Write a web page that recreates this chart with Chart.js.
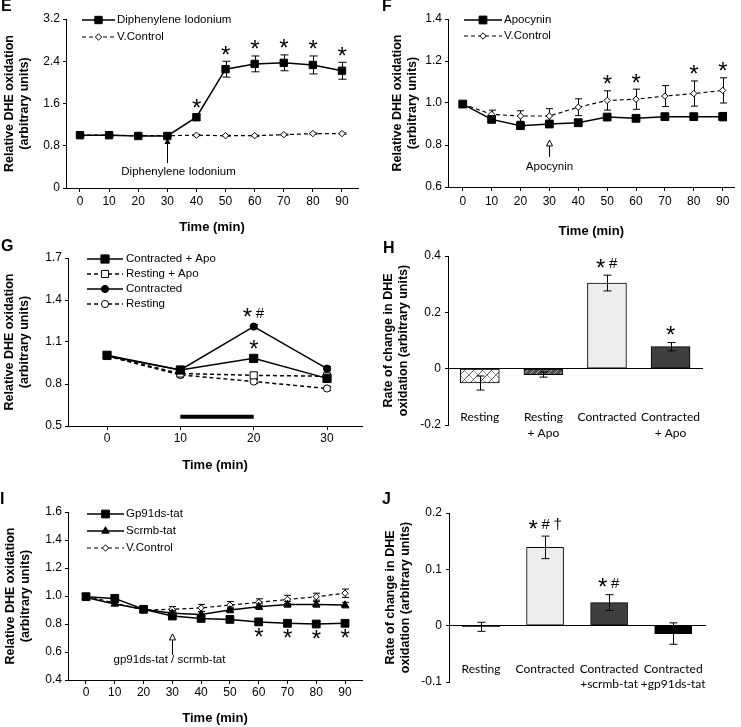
<!DOCTYPE html>
<html>
<head>
<meta charset="utf-8">
<script src="https://cdn.jsdelivr.net/npm/chart.js@4.4.1/dist/chart.umd.min.js"></script>
<style>
  body { margin: 0; background: #fff; }
  #fig { position: relative; width: 741px; height: 727px; overflow: hidden; background: #fff; }
  #fig canvas { position: absolute; }
  .tag { position: absolute; font: bold 16px 'Liberation Sans', Arial, sans-serif; line-height: 16px; color: #000; }
</style>
</head>
<body>
<div id="fig">
  <canvas id="chartE" width="370" height="240" style="left:0;top:0"></canvas>
  <canvas id="chartF" width="371" height="240" style="left:370px;top:0"></canvas>
  <canvas id="chartG" width="370" height="240" style="left:0;top:240px"></canvas>
  <canvas id="chartH" width="371" height="240" style="left:370px;top:240px"></canvas>
  <canvas id="chartI" width="370" height="247" style="left:0;top:480px"></canvas>
  <canvas id="chartJ" width="371" height="247" style="left:370px;top:480px"></canvas>
  <div class="tag" style="left:1px;top:-2px">E</div>
  <div class="tag" style="left:382px;top:-2px">F</div>
  <div class="tag" style="left:1px;top:238px">G</div>
  <div class="tag" style="left:383px;top:240px">H</div>
  <div class="tag" style="left:0;top:491px">I</div>
  <div class="tag" style="left:382px;top:491px">J</div>
</div>
<script>
// ---- data ----
const timeLong = [0, 10, 20, 30, 40, 50, 60, 70, 80, 90];
const timeShort = [0, 10, 20, 30];

// E: diphenylene iodonium
const eYTicks = [0, 0.8, 1.6, 2.4, 3.2];
const dpiValues = [1.0, 1.0, 0.985, 0.985, 1.34, 2.25, 2.35, 2.37, 2.33, 2.22];
const dpiErrors = [0.02, 0.02, 0.02, 0.02, 0.06, 0.15, 0.15, 0.15, 0.17, 0.16];
const dpiStars = ['', '', '', '', '*', '*', '*', '*', '*', '*'];
const dpiControl = [1.0, 1.0, 0.99, 0.99, 1.0, 0.99, 0.99, 1.01, 1.03, 1.03];
const dpiControlErr = [0.01, 0.01, 0.01, 0.01, 0.01, 0.01, 0.01, 0.01, 0.01, 0.01];

// F: apocynin
const fYTicks = [0.6, 0.8, 1.0, 1.2, 1.4];
const apoValues = [0.995, 0.922, 0.892, 0.9, 0.906, 0.933, 0.927, 0.935, 0.935, 0.935];
const apoErrors = [0.01, 0.012, 0.01, 0.01, 0.01, 0.01, 0.01, 0.01, 0.012, 0.02];
const apoControl = [0.995, 0.946, 0.938, 0.938, 0.98, 1.012, 1.018, 1.033, 1.045, 1.06];
const apoControlErr = [0.01, 0.02, 0.025, 0.035, 0.04, 0.046, 0.048, 0.05, 0.06, 0.06];
const apoStars = ['', '', '', '', '', '*', '*', '', '*', '*'];

// G: contraction +/- apocynin
const gYTicks = [0.5, 0.8, 1.1, 1.4, 1.7];
const contApo = [1.005, 0.9, 0.983, 0.84];
const contApoErr = [0.01, 0.01, 0.012, 0.015];
const contApoStars = ['', '', '*', ''];
const restApo = [1.0, 0.875, 0.862, 0.855];
const restApoErr = [0.01, 0.02, 0.02, 0.015];
const contracted = [1.0, 0.9, 1.21, 0.91];
const contractedErr = [0.01, 0.01, 0.015, 0.015];
const contractedStars = ['', '', '* #', ''];
const resting = [1.0, 0.865, 0.818, 0.768];
const restingErr = [0.01, 0.02, 0.015, 0.015];
const contractionPeriod = [10, 20];
const contractionBarLevel = 0.566;

// H: rate of change, apocynin
const hYTicks = [-0.2, 0, 0.2, 0.4];
const hLabels = ['Resting', ['Resting', '+ Apo'], 'Contracted', ['Contracted', '+ Apo']];
const hValues = [-0.051, -0.021, 0.304, 0.078];
const hErrors = [0.025, 0.009, 0.028, 0.015];
const hMarks = ['', '', '* #', '*'];

// I: gp91ds-tat
const iYTicks = [0.4, 0.6, 0.8, 1.0, 1.2, 1.4, 1.6];
const gp91Values = [0.995, 0.983, 0.905, 0.857, 0.84, 0.833, 0.815, 0.805, 0.8, 0.805];
const gp91Errors = [0.01, 0.01, 0.01, 0.01, 0.01, 0.01, 0.01, 0.01, 0.01, 0.01];
const gp91Stars = ['', '', '', '', '', '', '*', '*', '*', '*'];
const scrmbValues = [0.99, 0.943, 0.905, 0.876, 0.868, 0.9, 0.924, 0.94, 0.94, 0.935];
const scrmbErrors = [0.01, 0.01, 0.01, 0.02, 0.02, 0.02, 0.02, 0.02, 0.02, 0.02];
const iControl = [1.0, 0.95, 0.9, 0.905, 0.915, 0.935, 0.955, 0.975, 0.995, 1.02];
const iControlErr = [0.01, 0.01, 0.01, 0.02, 0.025, 0.025, 0.025, 0.03, 0.025, 0.03];

// J: rate of change, gp91ds-tat
const jYTicks = [-0.1, 0, 0.1, 0.2];
const jLabels = ['Resting', 'Contracted', ['Contracted', '+scrmb-tat'], ['Contracted', '+gp91ds-tat']];
const jValues = [-0.002, 0.139, 0.041, -0.014];
const jErrors = [0.008, 0.02, 0.014, 0.019];
const jMarks = ['', '* # \u2020', '* #', ''];

// ---- defaults ----
const FONT = "'Liberation Sans', Arial, sans-serif";
Chart.defaults.font.family = FONT;
Chart.defaults.font.size = 12;
Chart.defaults.color = '#000';
Chart.defaults.animation = false;
Chart.defaults.responsive = false;
Chart.defaults.plugins.legend.display = false;
Chart.defaults.plugins.tooltip.enabled = false;

// ---- plugins ----
function drawErrors(chart, opts) {
  const ctx = chart.ctx, ys = chart.scales.y, cap = opts.cap || 3.5;
  chart.data.datasets.forEach((ds, i) => {
    if (!ds.errors) return;
    const meta = chart.getDatasetMeta(i);
    ctx.save();
    ctx.strokeStyle = '#000';
    ctx.lineWidth = 1;
    meta.data.forEach((el, j) => {
      const v = ds.data[j], e = ds.errors[j];
      if (v == null || !e) return;
      const x = Math.round(el.x) + 0.5;
      const top = ys.getPixelForValue(v + e), bot = ys.getPixelForValue(v - e);
      ctx.beginPath();
      ctx.moveTo(x, top); ctx.lineTo(x, bot);
      ctx.moveTo(x - cap, top); ctx.lineTo(x + cap, top);
      ctx.moveTo(x - cap, bot); ctx.lineTo(x + cap, bot);
      ctx.stroke();
    });
    ctx.restore();
  });
}

const errorBars = {
  id: 'errorBars',
  beforeDatasetsDraw(chart, args, opts) { if (opts.under) drawErrors(chart, opts); },
  afterDatasetsDraw(chart, args, opts) { if (!opts.under) drawErrors(chart, opts); }
};

const markSizes = { '*': 24, '#': 15, '\u2020': 15 };

function drawMark(ctx, text, cx, cy) {
  const parts = text.split(' ').map(t => {
    const font = (markSizes[t] || 14) + 'px ' + FONT;
    ctx.font = font;
    const m = ctx.measureText(t);
    return { t, font, w: m.actualBoundingBoxLeft + m.actualBoundingBoxRight, left: m.actualBoundingBoxLeft,
             asc: m.actualBoundingBoxAscent, desc: m.actualBoundingBoxDescent };
  });
  const gap = 4;
  const total = parts.reduce((s, p) => s + p.w, 0) + gap * (parts.length - 1);
  let x = cx - total / 2;
  ctx.textAlign = 'left';
  ctx.textBaseline = 'alphabetic';
  parts.forEach(p => {
    ctx.font = p.font;
    ctx.fillText(p.t, x + p.left, cy + (p.asc - p.desc) / 2);
    x += p.w + gap;
  });
}

const starMarks = {
  id: 'starMarks',
  afterDatasetsDraw(chart, args, opts) {
    const ctx = chart.ctx, ys = chart.scales.y, gap = opts.gap || 11;
    ctx.save();
    ctx.fillStyle = '#000';
    chart.data.datasets.forEach((ds, i) => {
      if (!ds.marks) return;
      const meta = chart.getDatasetMeta(i);
      meta.data.forEach((el, j) => {
        const m = ds.marks[j];
        if (!m) return;
        const v = ds.data[j], e = (ds.errors && ds.errors[j]) || 0;
        const cy = opts.below ? ys.getPixelForValue(v - e) + gap : ys.getPixelForValue(v + e) - gap;
        drawMark(ctx, m, el.x, cy);
      });
    });
    ctx.restore();
  }
};

function marker(ctx, ds, x, y) {
  ctx.fillStyle = ds.pointBackgroundColor;
  ctx.strokeStyle = ds.pointBorderColor;
  ctx.lineWidth = ds.pointBorderWidth || 1;
  if (Chart.helpers && Chart.helpers.drawPoint) {
    Chart.helpers.drawPoint(ctx, { pointStyle: ds.pointStyle, radius: ds.pointRadius, rotation: 0, borderWidth: ctx.lineWidth }, x, y);
  } else {
    ctx.fillRect(x - 3, y - 3, 6, 6);
  }
}

const lineLegend = {
  id: 'lineLegend',
  afterDraw(chart, args, opts) {
    if (opts.x1 == null) return;
    const ctx = chart.ctx;
    let row = 0;
    chart.data.datasets.forEach(ds => {
      if (ds.hideInLegend) return;
      const y = opts.y + row * opts.dy;
      row++;
      ctx.save();
      ctx.strokeStyle = ds.borderColor;
      ctx.lineWidth = ds.borderWidth;
      ctx.setLineDash(ds.borderDash || []);
      ctx.beginPath();
      ctx.moveTo(opts.x1, y); ctx.lineTo(opts.x2, y);
      ctx.stroke();
      ctx.setLineDash([]);
      marker(ctx, ds, (opts.x1 + opts.x2) / 2, y);
      ctx.fillStyle = '#000';
      ctx.font = '11.5px ' + FONT;
      ctx.textAlign = 'left';
      ctx.textBaseline = 'middle';
      ctx.fillText(ds.label, opts.tx, y);
      ctx.restore();
    });
  }
};

const arrowNote = {
  id: 'arrowNote',
  afterDraw(chart, args, opts) {
    if (opts.at == null) return;
    const ctx = chart.ctx, xs = chart.scales.x, ys = chart.scales.y;
    const x = Math.round(xs.getPixelForValue(opts.at)) + 0.5;
    const y1 = ys.getPixelForValue(opts.from), y2 = ys.getPixelForValue(opts.to);
    ctx.save();
    ctx.strokeStyle = '#000';
    ctx.lineWidth = 1;
    ctx.beginPath();
    ctx.moveTo(x, y1); ctx.lineTo(x, y2 + 5);
    ctx.stroke();
    ctx.beginPath();
    ctx.moveTo(x, y2); ctx.lineTo(x - 3, y2 + 6); ctx.lineTo(x + 3, y2 + 6); ctx.closePath();
    if (opts.open) { ctx.fillStyle = '#fff'; ctx.fill(); ctx.stroke(); }
    else { ctx.fillStyle = '#000'; ctx.fill(); }
    ctx.fillStyle = '#000';
    ctx.font = '11.5px ' + FONT;
    ctx.textAlign = 'center';
    ctx.textBaseline = 'middle';
    ctx.fillText(opts.text, x + (opts.dx || 0), ys.getPixelForValue(opts.textAt));
    ctx.restore();
  }
};

// ---- axes ----
function valueAxis(min, max, ticks, width, title, titlePad, tickPad) {
  return {
    min: min, max: max, bounds: 'data',
    afterBuildTicks: s => { s.ticks = ticks.map(v => ({ value: v })); },
    afterFit: s => { s.width = width; },
    grid: { drawOnChartArea: false, tickLength: 3, color: '#000' },
    border: { color: '#000', width: 1 },
    ticks: { padding: tickPad, font: { size: 12 }, callback: v => (Math.abs(v) < 1e-9 ? '0' : v.toFixed(1)) },
    title: { display: true, text: title, color: '#000',
             font: { size: 12.5, weight: 'bold', lineHeight: 1.2 }, padding: { top: titlePad, bottom: 0 } }
  };
}

function timeAxis(min, max, height, tickPad, titlePad) {
  return {
    type: 'linear', min: min, max: max, bounds: 'data',
    afterBuildTicks: s => { s.ticks = s.chart.data.labels.map(v => ({ value: v })); },
    afterFit: s => { s.height = height; },
    grid: { drawOnChartArea: false, tickLength: 4, color: '#000' },
    border: { color: '#000', width: 1 },
    ticks: { padding: tickPad, autoSkip: false, maxRotation: 0, font: { size: 12 } },
    title: { display: true, text: 'Time (min)', color: '#000',
             font: { size: 13, weight: 'bold', lineHeight: 1.2 }, padding: { top: 0, bottom: titlePad } }
  };
}

function categoryAxis(tickPad) {
  return {
    type: 'category', position: { y: 0 }, offset: true,
    grid: { display: true, drawOnChartArea: false, drawTicks: false },
    border: { color: '#000', width: 1 },
    ticks: { padding: tickPad, autoSkip: false, maxRotation: 0,
             font: { family: 'Lato, sans-serif', size: 12, lineHeight: 1.3 } }
  };
}

// ---- series styles ----
const solidSquare = r => ({ borderColor: '#000', borderWidth: 1.5, pointStyle: 'rect', pointRadius: r,
  pointBackgroundColor: '#000', pointBorderColor: '#000', pointBorderWidth: 1, tension: 0 });
const openDiamond = { borderColor: '#000', borderWidth: 1.2, borderDash: [4, 3], pointStyle: 'rectRot', pointRadius: 3.2,
  pointBackgroundColor: '#fff', pointBorderColor: '#000', pointBorderWidth: 1, tension: 0 };

const yTitle = ['Relative DHE oxidation', '(arbitrary units)'];
const rateTitle = ['Rate of change in DHE', 'oxidation (arbitrary units)'];

// ---- E ----
new Chart(document.getElementById('chartE'), {
  type: 'line',
  data: {
    labels: timeLong,
    datasets: [
      Object.assign({ label: 'Diphenylene Iodonium', data: dpiValues, errors: dpiErrors, marks: dpiStars }, solidSquare(5.2)),
      Object.assign({ label: 'V.Control', data: dpiControl, errors: dpiControlErr }, openDiamond)
    ]
  },
  options: {
    devicePixelRatio: 1,
    layout: { padding: { left: 0, top: 19, right: 12, bottom: 0 } },
    scales: { x: timeAxis(-4.8, 95.5, 52, 2.5, 5), y: valueAxis(0, 3.2, eYTicks, 66, yTitle, 2, 3) },
    plugins: {
      errorBars: { under: true, cap: 4 },
      starMarks: { gap: 11 },
      lineLegend: { x1: 82, x2: 115, tx: 117, y: 20, dy: 17 },
      arrowNote: { at: 30, from: 0.47, to: 0.945, text: 'Diphenylene Iodonium', textAt: 0.3, dx: 11, open: false }
    }
  },
  plugins: [errorBars, starMarks, lineLegend, arrowNote]
});

// ---- F ----
new Chart(document.getElementById('chartF'), {
  type: 'line',
  data: {
    labels: timeLong,
    datasets: [
      Object.assign({ label: 'Apocynin', data: apoValues, errors: apoErrors }, solidSquare(5.5)),
      Object.assign({ label: 'V.Control', data: apoControl, errors: apoControlErr, marks: apoStars }, openDiamond)
    ]
  },
  options: {
    devicePixelRatio: 1,
    layout: { padding: { left: 0, top: 19, right: 1, bottom: 0 } },
    scales: { x: timeAxis(-5.1, 94.1, 53, 3.5, 1.2), y: valueAxis(0.6, 1.4, fYTicks, 78, yTitle, 20, 3) },
    plugins: {
      errorBars: { under: true, cap: 3.5 },
      starMarks: { gap: 11 },
      lineLegend: { x1: 94, x2: 132, tx: 134, y: 20, dy: 16 },
      arrowNote: { at: 30, from: 0.743, to: 0.824, text: 'Apocynin', textAt: 0.695, dx: 0, open: true }
    }
  },
  plugins: [errorBars, starMarks, lineLegend, arrowNote]
});

// ---- G ----
new Chart(document.getElementById('chartG'), {
  type: 'line',
  data: {
    labels: timeShort,
    datasets: [
      Object.assign({ label: 'Contracted + Apo', data: contApo, errors: contApoErr, marks: contApoStars }, solidSquare(5.8)),
      Object.assign({ label: 'Resting + Apo', data: restApo, errors: restApoErr }, openDiamond,
        { pointStyle: 'rect', pointRadius: 5, borderWidth: 1.5 }),
      Object.assign({ label: 'Contracted', data: contracted, errors: contractedErr, marks: contractedStars }, solidSquare(3.6),
        { pointStyle: 'circle' }),
      Object.assign({ label: 'Resting', data: resting, errors: restingErr }, openDiamond,
        { pointStyle: 'circle', pointRadius: 3.6, borderWidth: 1.5 }),
      { data: contractionPeriod.map(t => ({ x: t, y: contractionBarLevel })), hideInLegend: true,
        borderColor: '#000', borderWidth: 4, pointRadius: 0, borderCapStyle: 'butt' }
    ]
  },
  options: {
    devicePixelRatio: 1,
    layout: { padding: { left: 0, top: 18, right: 8, bottom: 0 } },
    scales: { x: timeAxis(-5.32, 34.77, 54, 1.8, 7), y: valueAxis(0.5, 1.7, gYTicks, 68, yTitle, 2.5, 3) },
    plugins: {
      errorBars: { under: true, cap: 3.5 },
      starMarks: { gap: 12 },
      lineLegend: { x1: 87, x2: 123, tx: 126, y: 19, dy: 15 }
    }
  },
  plugins: [errorBars, starMarks, lineLegend]
});

// ---- H ----
function hatchPattern(bg, fg, size, back) {
  const c = document.createElement('canvas');
  c.width = c.height = size;
  const g = c.getContext('2d');
  g.fillStyle = bg;
  g.fillRect(0, 0, size, size);
  g.lineWidth = 1;
  if (back) {
    g.strokeStyle = back;
    g.beginPath(); g.moveTo(-1, -1); g.lineTo(size + 1, size + 1); g.stroke();
  }
  g.strokeStyle = fg;
  g.beginPath(); g.moveTo(-1, size + 1); g.lineTo(size + 1, -1); g.stroke();
  return g.createPattern(c, 'repeat');
}

new Chart(document.getElementById('chartH'), {
  type: 'bar',
  data: {
    labels: hLabels,
    datasets: [{
      data: hValues, errors: hErrors, marks: hMarks,
      backgroundColor: [hatchPattern('#ffffff', '#555555', 9, '#9a9a9a'), hatchPattern('#505050', '#a8a8a8', 6), '#ededed', '#3f3f3f'],
      borderColor: '#000', borderWidth: 1, borderSkipped: false, barThickness: 39
    }]
  },
  options: {
    devicePixelRatio: 1,
    layout: { padding: { left: 0, top: 16, right: 0, bottom: 55 } },
    scales: { x: categoryAxis(41), y: valueAxis(-0.2, 0.4, hYTicks, 78, rateTitle, 11.5, 4) },
    plugins: { errorBars: { under: false, cap: 4 }, starMarks: { gap: 12 } }
  },
  plugins: [errorBars, starMarks]
});

// ---- I ----
new Chart(document.getElementById('chartI'), {
  type: 'line',
  data: {
    labels: timeLong,
    datasets: [
      Object.assign({ label: 'Gp91ds-tat', data: gp91Values, errors: gp91Errors, marks: gp91Stars }, solidSquare(5.5)),
      Object.assign({ label: 'Scrmb-tat', data: scrmbValues, errors: scrmbErrors }, solidSquare(4.3), { pointStyle: 'triangle' }),
      Object.assign({ label: 'V.Control', data: iControl, errors: iControlErr }, openDiamond)
    ]
  },
  options: {
    devicePixelRatio: 1,
    layout: { padding: { left: 0, top: 32, right: 8, bottom: 0 } },
    scales: { x: timeAxis(-6.25, 95.9, 47, 1.8, 1.2), y: valueAxis(0.4, 1.6, iYTicks, 68, yTitle, 3.5, 3) },
    plugins: {
      errorBars: { under: true, cap: 3.5 },
      starMarks: { gap: 9, below: true },
      lineLegend: { x1: 87, x2: 124, tx: 126, y: 34, dy: 17 },
      arrowNote: { at: 30, from: 0.579, to: 0.729, text: 'gp91ds-tat / scrmb-tat', textAt: 0.543, dx: -3, open: true }
    }
  },
  plugins: [errorBars, starMarks, lineLegend, arrowNote]
});

// ---- J ----
new Chart(document.getElementById('chartJ'), {
  type: 'bar',
  data: {
    labels: jLabels,
    datasets: [{
      data: jValues, errors: jErrors, marks: jMarks,
      backgroundColor: ['#000000', '#ededed', '#3f3f3f', '#000000'],
      borderColor: '#000', borderWidth: 1, borderSkipped: false, barThickness: 37
    }]
  },
  options: {
    devicePixelRatio: 1,
    layout: { padding: { left: 0, top: 33, right: 0, bottom: 45 } },
    scales: { x: categoryAxis(35.5), y: valueAxis(-0.1, 0.2, jYTicks, 79, rateTitle, 13.5, 4) },
    plugins: { errorBars: { under: false, cap: 4 }, starMarks: { gap: 12 } }
  },
  plugins: [errorBars, starMarks]
});
</script>
</body>
</html>
